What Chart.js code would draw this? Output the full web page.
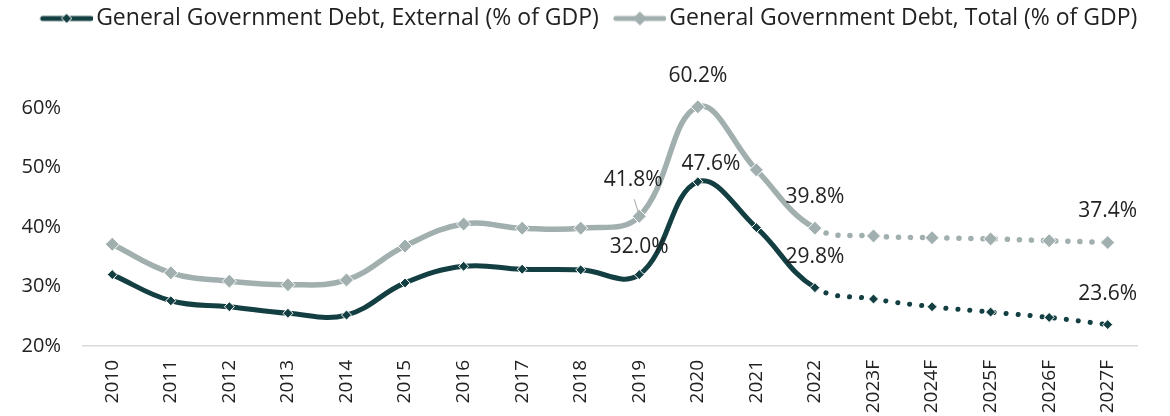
<!DOCTYPE html>
<html>
<head>
<meta charset="UTF-8">
<title>General Government Debt</title>
<script src="https://cdn.jsdelivr.net/npm/chart.js"></script>
<style type="text/css">
	body { margin: 0; background: #fff; }
	#chartArea { width: 1170px; height: 416px; }
</style>
</head>
<body>
<div id="chartArea">
	<canvas id="myChart"></canvas>
</div>
<script>
// data
var years = ['2010', '2011', '2012', '2013', '2014', '2015', '2016', '2017', '2018', '2019',
	'2020', '2021', '2022', '2023F', '2024F', '2025F', '2026F', '2027F'];
var externalDebt = [32.0, 27.6, 26.6, 25.5, 25.2, 30.6, 33.4, 32.9, 32.8, 32.0,
	47.6, 39.9, 29.8, 27.9, 26.6, 25.7, 24.8, 23.6];
var totalDebt = [37.1, 32.3, 30.9, 30.3, 31.1, 36.8, 40.5, 39.8, 39.8, 41.8,
	60.2, 49.6, 39.8, 38.5, 38.2, 38.0, 37.7, 37.4];
var yTicks = [20, 30, 40, 50, 60];
var labelledYears = ['2019', '2020', '2022', '2027F'];
var lastActual = '2022'; // dotted after this one

var DARK = '#133f42';
var GREY = '#a2afaf';
var FONT = "'Open Sans', sans-serif";
var lastActualIdx = years.indexOf(lastActual);

// legend icon: line with a diamond in the middle
function legendIcon(color, r, border) {
	var c = document.createElement('canvas');
	c.width = 68; c.height = 18;
	var g = c.getContext('2d');
	g.strokeStyle = color;
	g.lineWidth = 5;
	g.lineCap = 'round';
	g.beginPath(); g.moveTo(18, 9); g.lineTo(66, 9); g.stroke();
	g.beginPath();
	g.moveTo(42, 9 - r); g.lineTo(42 + r, 9); g.lineTo(42, 9 + r); g.lineTo(42 - r, 9); g.closePath();
	g.fillStyle = color; g.fill();
	if (border) { g.strokeStyle = '#fff'; g.lineWidth = 1; g.stroke(); }
	return c;
}
var legendIcons = [legendIcon(DARK, 5, true), legendIcon(GREY, 7, false)];

// dotted forecast segments
function dashFor(ctx) { return ctx.p0DataIndex >= lastActualIdx ? [0.1, 12] : []; }
function capFor(ctx) { return ctx.p0DataIndex >= lastActualIdx ? 'round' : 'butt'; }

// push the plot down below the legend
var legendSpace = {
	id: 'legendSpace',
	beforeLayout: function(chart) {
		var lg = chart.legend;
		if (lg && !lg._spaced) {
			var fit = lg.fit;
			lg.fit = function() { fit.call(this); this.height = 108; };
			lg._spaced = true;
		}
	}
};

// value labels on selected points
var valueLabels = {
	id: 'valueLabels',
	afterDatasetsDraw: function(chart) {
		var ctx = chart.ctx;
		ctx.save();
		ctx.font = '21px ' + FONT;
		ctx.fillStyle = '#222';
		ctx.textAlign = 'center';
		ctx.textBaseline = 'middle';
		chart.data.datasets.forEach(function(ds, di) {
			var meta = chart.getDatasetMeta(di);
			labelledYears.forEach(function(yr) {
				var i = years.indexOf(yr);
				var pt = meta.data[i];
				var dx = 0, dy = -31;
				if (di == 1 && yr == '2019') { dx = -6; dy = -36; }
				if (di == 0 && yr == '2019') { dy = -28; }
				if (di == 0 && yr == '2020') { dx = 13; dy = -18; }
				ctx.fillText(ds.data[i].toFixed(1) + '%', pt.x + dx, pt.y + dy);
				if (di == 1 && yr == '2019') {
					ctx.strokeStyle = '#a6a6a6';
					ctx.lineWidth = 1;
					ctx.beginPath();
					ctx.moveTo(pt.x - 5, pt.y - 17);
					ctx.lineTo(pt.x - 1, pt.y - 4);
					ctx.stroke();
				}
			});
		});
		ctx.restore();
	}
};

var ctx = document.getElementById('myChart').getContext('2d');
var myChart = new Chart(ctx, {
	type: 'line',
	data: {
		labels: years,
		datasets: [{
			label: 'General Government Debt, External (% of GDP)',
			data: externalDebt,
			borderColor: DARK,
			backgroundColor: DARK,
			borderWidth: 5,
			tension: 0.4,
			pointStyle: 'rectRot',
			pointRadius: 5,
			pointHoverRadius: 5,
			pointBorderColor: '#fff',
			pointBorderWidth: 1,
			clip: false,
			segment: { borderDash: dashFor, borderCapStyle: capFor }
		}, {
			label: 'General Government Debt, Total (% of GDP)',
			data: totalDebt,
			borderColor: GREY,
			backgroundColor: GREY,
			borderWidth: 5.5,
			tension: 0.4,
			pointStyle: 'rectRot',
			pointRadius: 7,
			pointHoverRadius: 7,
			pointBorderColor: '#fff',
			pointBorderWidth: 1,
			clip: false,
			segment: { borderDash: dashFor, borderCapStyle: capFor }
		}]
	},
	options: {
		responsive: true,
		maintainAspectRatio: false,
		animation: false,
		layout: { padding: 0 },
		plugins: {
			tooltip: { enabled: false },
			legend: {
				position: 'top',
				labels: {
					usePointStyle: true,
					pointStyleWidth: 52,
					padding: 7,
					color: '#222',
					font: { family: FONT, size: 23 },
					generateLabels: function(chart) {
						var items = Chart.defaults.plugins.legend.labels.generateLabels(chart);
						items.forEach(function(it) { it.pointStyle = legendIcons[it.datasetIndex]; });
						return items;
					}
				}
			}
		},
		scales: {
			x: {
				offset: true,
				grid: { display: false, drawTicks: false },
				border: { display: true, color: '#d9d9d9', width: 1.5 },
				ticks: {
					color: '#222',
					font: { family: FONT, size: 19 },
					minRotation: 90,
					maxRotation: 90,
					padding: 14,
					autoSkip: false
				},
				afterFit: function(s) { s.height = 70; }
			},
			y: {
				min: yTicks[0],
				max: yTicks[yTicks.length - 1],
				grid: { display: false, drawTicks: false },
				border: { display: false },
				ticks: {
					color: '#222',
					font: { family: FONT, size: 20 },
					padding: 22,
					callback: function(v) { return v + '%'; }
				},
				afterBuildTicks: function(s) { s.ticks = yTicks.map(function(v) { return { value: v }; }); },
				afterFit: function(s) { s.width = 83; }
			},
			yr: {
				position: 'right',
				grid: { display: false },
				border: { display: false },
				ticks: { display: false },
				afterFit: function(s) { s.width = 33; }
			}
		}
	},
	plugins: [legendSpace, valueLabels]
});
</script>
</body>
</html>
